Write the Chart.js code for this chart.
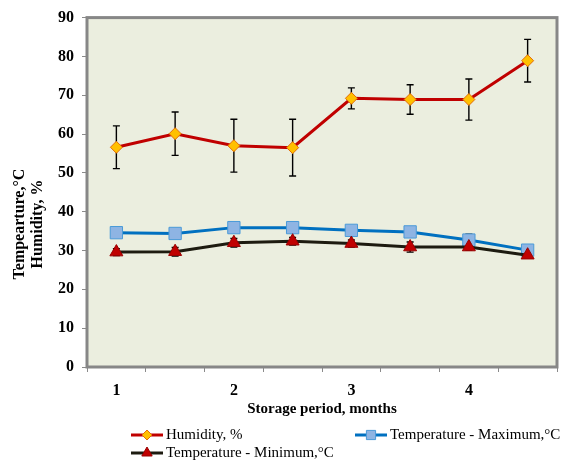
<!DOCTYPE html>
<html><head><meta charset="utf-8">
<script src="https://cdn.jsdelivr.net/npm/chart.js@4/dist/chart.umd.min.js"></script>
<style>html,body{margin:0;padding:0;background:#fff}#wrap{width:571px;height:461px;position:relative}</style>
</head><body><div id="wrap"><canvas id="c" width="571" height="461"></canvas></div>
<script>
const categories = ['1','','2','','3','','4',''];
const humidity = [56.6,60.1,57.0,56.5,69.2,68.9,68.9,78.9];
const humidityErr = [5.5,5.6,6.8,7.3,2.7,3.8,5.3,5.5];
const tempMax = [34.6,34.4,35.9,35.9,35.2,34.8,32.7,30.1];
const tempMaxErr = [1.0,1.0,1.0,1.0,1.0,1.0,1.5,1.0];
const tempMin = [29.6,29.7,32.0,32.4,31.8,30.9,30.9,28.8];
const tempMinErr = [0.9,1.1,1.1,1.0,0.9,1.3,0.8,0.6];
const yMin = 0, yMax = 90, yStep = 10;
const xTitle = 'Storage period, months';
const yTitleLines = ['Tempearture,\u00B0C', 'Humidity, %'];
const seriesNames = ['Humidity, %', 'Temperature - Maximum,\u00B0C', 'Temperature - Minimum,\u00B0C'];
const errs = [humidityErr, tempMaxErr, tempMinErr];

const FONT = "'Liberation Serif', 'Times New Roman', serif";

const framePlugin = {
  id: 'frame',
  beforeDraw(chart) {
    const {ctx, chartArea: a} = chart;
    ctx.save();
    ctx.fillStyle = '#EBEEDF';
    ctx.fillRect(a.left, a.top, a.right - a.left, a.bottom - a.top);
    ctx.restore();
  },
  beforeDatasetsDraw(chart) {
    const {ctx, chartArea: a} = chart;
    ctx.save();
    ctx.strokeStyle = '#878787';
    ctx.lineWidth = 3;
    ctx.strokeRect(a.left, a.top, a.right - a.left, a.bottom - a.top);
    // error bars
    const xs = chart.scales.x, ys = chart.scales.y;
    ctx.strokeStyle = '#000';
    ctx.lineWidth = 1.4;
    chart.data.datasets.forEach((ds, di) => {
      const e = errs[di];
      ds.data.forEach((v, i) => {
        const x = xs.getPixelForValue(i);
        const y1 = ys.getPixelForValue(v + e[i]);
        const y2 = ys.getPixelForValue(v - e[i]);
        ctx.beginPath();
        ctx.moveTo(x, y1); ctx.lineTo(x, y2);
        ctx.moveTo(x - 3.5, y1); ctx.lineTo(x + 3.5, y1);
        ctx.moveTo(x - 3.5, y2); ctx.lineTo(x + 3.5, y2);
        ctx.stroke();
      });
    });
    ctx.restore();
  },
  afterDraw(chart) {
    const {ctx} = chart;
    ctx.save();
    // y title
    ctx.fillStyle = '#000';
    ctx.font = "bold 16px " + FONT;
    ctx.textAlign = 'center';
    ctx.textBaseline = 'middle';
    const cy = 224;
    [20, 38].forEach((x, i) => {
      ctx.save();
      ctx.translate(x, cy);
      ctx.rotate(-Math.PI / 2);
      ctx.fillText(yTitleLines[i], 0, 0);
      ctx.restore();
    });
    // legend
    const slots = [{x: 131, y: 435}, {x: 355, y: 435}, {x: 131, y: 453}];
    const legendRadius = [5, 6.5, 6];
    chart.data.datasets.forEach((ds, di) => {
      const s = slots[di];
      ctx.strokeStyle = ds.borderColor;
      ctx.lineWidth = 3;
      ctx.beginPath();
      ctx.moveTo(s.x, s.y); ctx.lineTo(s.x + 32, s.y);
      ctx.stroke();
      ctx.fillStyle = ds.pointBackgroundColor;
      ctx.strokeStyle = ds.pointBorderColor;
      ctx.lineWidth = 1;
      Chart.helpers.drawPoint(ctx, {pointStyle: ds.pointStyle, radius: legendRadius[di], rotation: 0, borderWidth: 1}, s.x + 16, s.y);
      ctx.fillStyle = '#000';
      ctx.font = "15px " + FONT;
      ctx.textAlign = 'left';
      ctx.textBaseline = 'middle';
      ctx.fillText(seriesNames[di], s.x + 35, s.y);
    });
    ctx.restore();
  }
};

new Chart(document.getElementById('c'), {
  type: 'line',
  data: {
    labels: categories,
    datasets: [
      {label: seriesNames[0], data: humidity, borderColor: '#C00000', borderWidth: 3,
       pointStyle: 'rectRot', pointRadius: 6, pointBackgroundColor: '#FFC000', pointBorderColor: '#E46C0A', pointBorderWidth: 1, order: 0, tension: 0},
      {label: seriesNames[1], data: tempMax, borderColor: '#0070C0', borderWidth: 3,
       pointStyle: 'rect', pointRadius: 8.7, pointBackgroundColor: '#8EB4E3', pointBorderColor: '#4A9AD8', pointBorderWidth: 1, order: 2, tension: 0},
      {label: seriesNames[2], data: tempMin, borderColor: '#1D1B10', borderWidth: 3,
       pointStyle: 'triangle', pointRadius: 7.5, pointBackgroundColor: '#C00000', pointBorderColor: '#9A0000', pointBorderWidth: 1, order: 1, tension: 0}
    ]
  },
  options: {
    responsive: false,
    devicePixelRatio: 1,
    animation: false,
    layout: {padding: {left: 0, right: 14, top: 17, bottom: 0}},
    plugins: {legend: {display: false}, tooltip: {enabled: false}},
    scales: {
      x: {
        offset: true,
        afterFit(s) { s.height = 94; },
        grid: {offset: true, drawOnChartArea: false, drawTicks: true, tickLength: 5, color: '#8a8a8a', lineWidth: 1},
        border: {display: false},
        ticks: {autoSkip: false, maxRotation: 0, padding: 9, color: '#000', font: {family: FONT, size: 16, weight: 'bold'}},
        title: {display: true, text: xTitle, color: '#000', font: {family: FONT, size: 15, weight: 'bold'}, padding: {top: 0, bottom: 43}}
      },
      y: {
        min: yMin, max: yMax,
        afterFit(s) { s.width = 87; },
        grid: {drawOnChartArea: false, drawTicks: true, tickLength: 5, color: '#8a8a8a'},
        border: {display: false},
        ticks: {stepSize: yStep, padding: 8, color: '#000', font: {family: FONT, size: 16, weight: 'bold'}}
      }
    }
  },
  plugins: [framePlugin]
});
</script></body></html>
